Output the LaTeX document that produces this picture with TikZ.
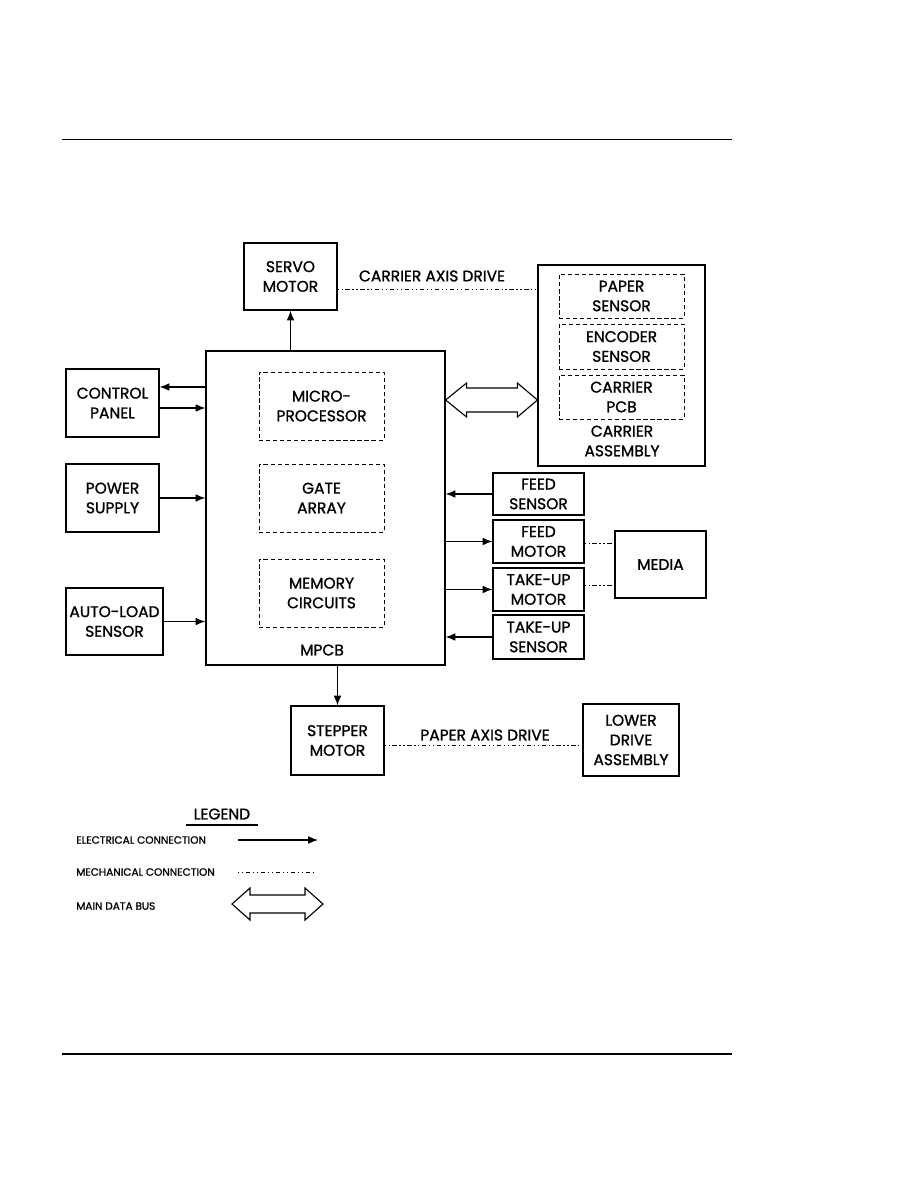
\documentclass[tikz,border=0pt]{standalone}
\usepackage{fontspec}
\setmainfont{Poppins}[FakeBold=1.2]
\usetikzlibrary{arrows.meta,calc}
\begin{document}
\begin{tikzpicture}[x=0.025cm,y=-0.025cm,
  blk/.style={draw,thick,align=center,inner sep=0pt,font=\fontsize{11}{14}\selectfont},
  sub/.style={draw,densely dashed,align=center,inner sep=0pt,font=\fontsize{11}{14}\selectfont},
  elec/.style={thick,-{Latex[length=7pt,width=5.5pt]}},
  mech/.style={thin,dash pattern=on 0.8pt off 2pt on 0.8pt off 2pt on 3pt off 2pt},
  lbl/.style={font=\fontsize{11}{14}\selectfont},
  leg/.style={font=\fontsize{7.5}{9}\selectfont,anchor=west,inner sep=0pt}]
\useasboundingbox (0,0) rectangle (918,1188);
% page rules
\draw[thin] (62,139)--(732,139);
\draw[thick] (62,1054)--(732,1054);
% main board
\node[blk,minimum width=5.975cm,minimum height=7.85cm] (mpcb) at (325.5,508) {};
\node[lbl] (mpcbl) at (322,650) {MPCB};
\node[sub,minimum width=3.125cm,minimum height=1.7cm] (micro) at (321.5,406) {MICRO-\\PROCESSOR};
\node[sub,minimum width=3.125cm,minimum height=1.7cm] (gate) at (321.5,498) {GATE\\ARRAY};
\node[sub,minimum width=3.125cm,minimum height=1.7cm] (memory) at (321.5,593) {MEMORY\\CIRCUITS};
% top
\node[blk,minimum width=2.325cm,minimum height=1.675cm] (servo) at (290.5,276.5) {SERVO\\MOTOR};
\node[blk,minimum width=4.175cm,minimum height=5.025cm] (carrier) at (621.5,365.5) {};
\node[sub,minimum width=3.125cm,minimum height=1.1cm] (paper) at (621.5,296) {PAPER\\SENSOR};
\node[sub,minimum width=3.125cm,minimum height=1.125cm] (encoder) at (621.5,346.5) {ENCODER\\SENSOR};
\node[sub,minimum width=3.125cm,minimum height=1.1cm] (cpcb) at (621.5,397) {CARRIER\\PCB};
\node[lbl,align=center] (carrierl) at (622,441) {CARRIER\\ASSEMBLY};
\node[lbl] (cad) at (432,276) {CARRIER AXIS DRIVE};
% left
\node[blk,minimum width=2.325cm,minimum height=1.7cm] (control) at (112.5,403) {CONTROL\\PANEL};
\node[blk,minimum width=2.325cm,minimum height=1.7cm] (power) at (112.5,498) {POWER\\SUPPLY};
\node[blk,minimum width=2.425cm,minimum height=1.675cm] (autoload) at (114.5,621.5) {AUTO-LOAD\\SENSOR};
% right
\node[blk,minimum width=2.275cm,minimum height=1.05cm] (feeds) at (538.5,494) {FEED\\SENSOR};
\node[blk,minimum width=2.275cm,minimum height=1.075cm] (feedm) at (538.5,541.5) {FEED\\MOTOR};
\node[blk,minimum width=2.275cm,minimum height=1.075cm] (takem) at (538.5,589.5) {TAKE-UP\\MOTOR};
\node[blk,minimum width=2.275cm,minimum height=1.1cm] (takes) at (538.5,637) {TAKE-UP\\SENSOR};
\node[blk,minimum width=2.275cm,minimum height=1.675cm] (media) at (660.5,564.5) {MEDIA};
% bottom
\node[blk,minimum width=2.325cm,minimum height=1.725cm] (stepper) at (337.5,740.5) {STEPPER\\MOTOR};
\node[blk,minimum width=2.4cm,minimum height=1.8cm] (lower) at (631,740) {LOWER\\DRIVE\\ASSEMBLY};
\node[lbl] (pad) at (485,735) {PAPER AXIS DRIVE};
% electrical
\draw[elec] (mpcb.north -| servo.south)--(servo.south);
\draw[elec] (mpcb.south -| stepper.north)--(stepper.north);
\draw[elec] (mpcb.west |- 0,387)--(control.east |- 0,387);
\draw[elec] (control.east |- 0,408)--(mpcb.west |- 0,408);
\draw[elec] (power.east)--(power.east -| mpcb.west);
\draw[elec] (autoload.east)--(autoload.east -| mpcb.west);
\draw[elec] (feeds.west)--(feeds.west -| mpcb.east);
\draw[elec] (mpcb.east |- feedm.west)--(feedm.west);
\draw[elec] (mpcb.east |- takem.west)--(takem.west);
\draw[elec] (takes.west)--(takes.west -| mpcb.east);
% mechanical
\draw[mech] (servo.east |- 0,289)--(carrier.west |- 0,289);
\draw[mech] (stepper.east |- 0,745)--(lower.west |- 0,745);
\draw[mech] (feedm.east |- 0,543)--(media.west |- 0,543);
\draw[mech] (takem.east |- 0,585)--(media.west |- 0,585);
% data bus
\coordinate (bl) at (mpcb.east |- 0,400);
\coordinate (br) at (carrier.west |- 0,400);
\draw[thick] (bl)--($(bl)+(21,-17)$)--($(bl)+(21,-12)$)--($(br)+(-20,-12)$)--($(br)+(-20,-17)$)--(br)
  --($(br)+(-20,17)$)--($(br)+(-20,12)$)--($(bl)+(21,12)$)--($(bl)+(21,17)$)--cycle;
% legend
\node[lbl] (legend) at (222,814) {LEGEND};
\draw[line width=1.6pt] (186,825)--(258,825);
\node[leg] (lel) at (76,840) {ELECTRICAL CONNECTION};
\node[leg] (lme) at (76,872) {MECHANICAL CONNECTION};
\node[leg] (lbus) at (76,906) {MAIN DATA BUS};
\coordinate (e1) at (238,840);
\coordinate (e2) at (318,840);
\draw[elec] (e1)--(e2);
\coordinate (m1) at (238,872);
\coordinate (m2) at (313,872);
\draw[mech] (m1)--(m2);
\coordinate (b1) at (232,904);
\coordinate (b2) at (323,904);
\draw[thick] (b1)--($(b1)+(18,-16)$)--($(b1)+(18,-9)$)--($(b2)+(-18,-9)$)--($(b2)+(-18,-16)$)--(b2)
  --($(b2)+(-18,16)$)--($(b2)+(-18,9)$)--($(b1)+(18,9)$)--($(b1)+(18,16)$)--cycle;
\end{tikzpicture}
\end{document}
